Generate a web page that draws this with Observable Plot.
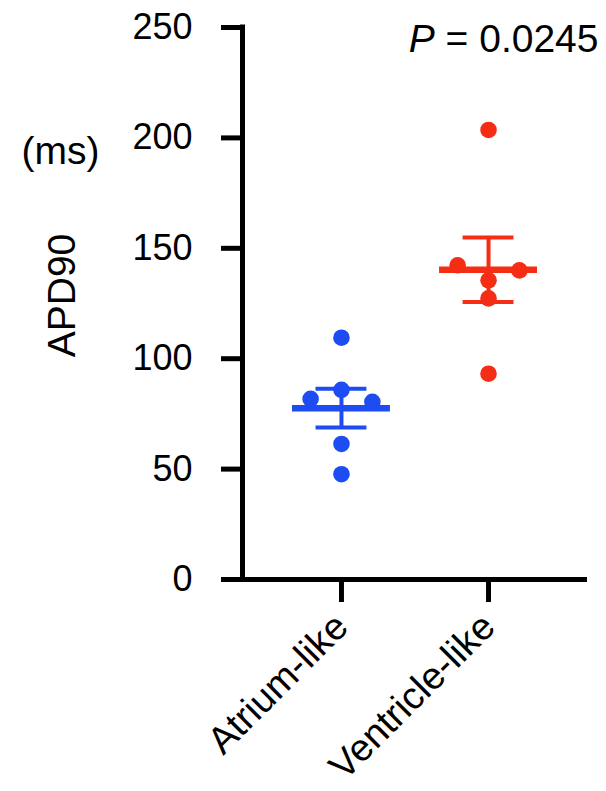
<!DOCTYPE html>
<html>
<head>
<meta charset="utf-8">
<script src="https://cdn.jsdelivr.net/npm/d3@7"></script>
<script src="https://cdn.jsdelivr.net/npm/@observablehq/plot@0.6"></script>
<style>
  html, body { margin: 0; padding: 0; background: #fff; }
  #chart { width: 606px; height: 791px; }
</style>
</head>
<body>
<div id="chart"></div>
<script>
// ---- data ----
const categories = ["Atrium-like", "Ventricle-like"];
const atrium = [109.5, 85.9, 81.8, 80.5, 61.4, 47.7];
const ventricle = [203.6, 135.5, 127.3, 93.2, 142.3, 140.0];
const means = [77.6, 140.3];
const sems = [8.8, 14.6];
const yTicks = [0, 50, 100, 150, 200, 250];
const yLabel = "APD90";
const unitLabel = "(ms)";
const pLabel = "P = 0.0245";

// ---- styling / layout ----
const colors = ["#1c4cf2", "#f42d14"];
const font = "'Liberation Sans', Arial, Helvetica, sans-serif";
const slotWidth = 0.21;      // horizontal spacing of swarm slots (x units)
const collide = 7.3;         // vertical distance (y units) under which dots collide
const xDomain = [-0.673, 1.673];

// simple swarm: place each dot in the centre slot unless it collides there
function swarm(values) {
  const placed = [];
  return values.map(v => {
    for (let k = 0; ; k++) {
      for (const s of (k === 0 ? [0] : [-k, k])) {
        if (!placed.some(p => p.s === s && Math.abs(p.v - v) < collide)) {
          placed.push({v, s});
          return s;
        }
      }
    }
  });
}

const groups = [atrium, ventricle];
const points = groups.flatMap((vals, g) => {
  const slots = swarm(vals);
  return vals.map((v, i) => ({g, x: g + slots[i] * slotWidth, y: v}));
});
const stats = categories.map((c, g) => ({g, mean: means[g], lo: means[g] - sems[g], hi: means[g] + sems[g]}));

const chart = Plot.plot({
  width: 606,
  height: 791,
  marginLeft: 242,
  marginRight: 19,
  marginTop: 27,
  marginBottom: 212,
  style: {fontFamily: font, fontSize: "36px", color: "#000", background: "#fff", overflow: "visible"},
  x: {domain: xDomain},
  y: {domain: [0, 250]},
  color: {domain: [0, 1], range: colors},
  marks: [
    Plot.axisY({ticks: yTicks, tickSize: 21, tickPadding: 29, strokeWidth: 5, label: null, fontSize: 36}),
    Plot.axisX({ticks: [0, 1], tickFormat: i => categories[i], tickSize: 23, tickPadding: 18,
                tickRotate: -45, strokeWidth: 5, label: null, fontSize: 38}),
    Plot.ruleY([0], {strokeWidth: 5}),
    Plot.ruleX([xDomain[0]], {y1: 0, y2: 250, strokeWidth: 5, strokeLinecap: "square"}),
    // SEM whiskers
    Plot.ruleX(stats, {x: "g", y1: "lo", y2: "hi", stroke: d => d.g, strokeWidth: 4}),
    Plot.ruleY(stats, {y: "hi", x1: d => d.g - 0.173, x2: d => d.g + 0.173, stroke: d => d.g, strokeWidth: 4}),
    Plot.ruleY(stats, {y: "lo", x1: d => d.g - 0.173, x2: d => d.g + 0.173, stroke: d => d.g, strokeWidth: 4}),
    // mean bar
    Plot.ruleY(stats, {y: "mean", x1: d => d.g - 0.333, x2: d => d.g + 0.333, stroke: d => d.g, strokeWidth: 6.5}),
    // dots
    Plot.dot(points, {x: "x", y: "y", r: 8.3, fill: d => d.g, stroke: null}),
    // annotations
    Plot.text([yLabel], {frameAnchor: "left", rotate: -90, dx: -180, dy: -8, fontSize: 39, textAnchor: "middle"}),
    Plot.text([unitLabel], {frameAnchor: "top-left", dx: -182, dy: 109, fontSize: 39, textAnchor: "middle"}),
    Plot.text([pLabel], {frameAnchor: "top-right", dx: 11, dy: -3, fontSize: 39, textAnchor: "end"})
  ]
});

// italicise the "P" of the P value
d3.select(chart).selectAll("text").filter(function() { return this.textContent === pLabel; })
  .each(function() {
    const t = d3.select(this);
    const rest = pLabel.slice(1);
    t.text(null);
    t.append("tspan").attr("font-style", "italic").text(pLabel[0]);
    t.append("tspan").text(rest);
  });

document.getElementById("chart").appendChild(chart);
</script>
</body>
</html>
